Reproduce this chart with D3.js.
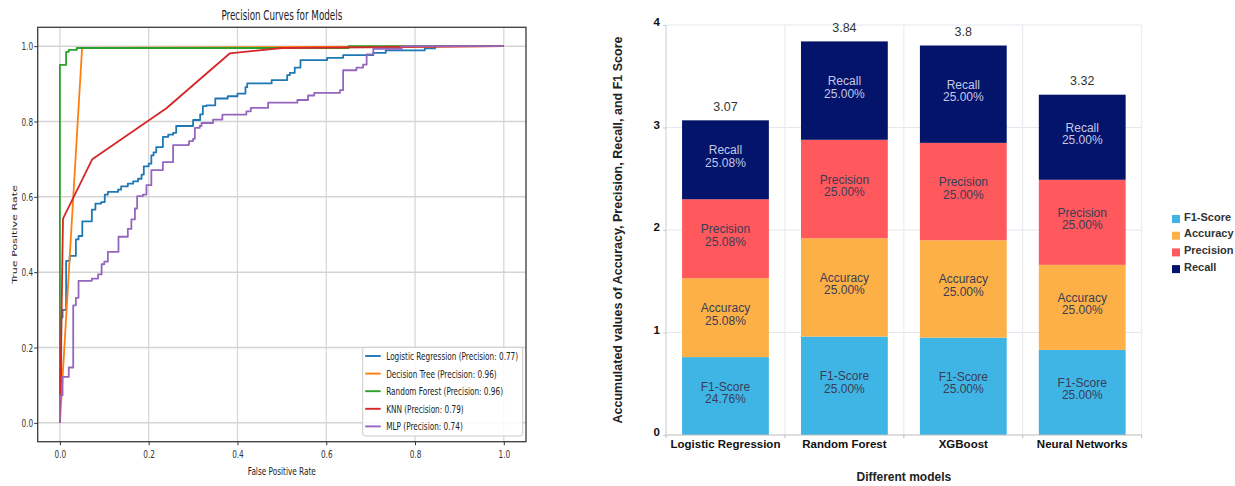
<!DOCTYPE html>
<html><head><meta charset="utf-8">
<script src="https://cdn.jsdelivr.net/npm/d3@7"></script>
<style>body{margin:0;background:#fff}svg{display:block}</style>
</head><body><svg id="c" width="1235" height="486"></svg>
<script>
// ---------------- LEFT PANEL DATA (ROC curves) ----------------
const rocTitle = "Precision Curves for Models";
const rocModels = ["Logistic Regression", "Decision Tree", "Random Forest", "KNN", "MLP"];
const rocPrecision = [0.77, 0.96, 0.96, 0.79, 0.74];
const rocTicks = [0, 0.2, 0.4, 0.6, 0.8, 1.0];

const lrFpr = [0, 0, 0.003, 0.006, 0.014, 0.022, 0.036, 0.042, 0.0505, 0.072, 0.080, 0.093, 0.101, 0.108, 0.131, 0.138, 0.153, 0.165, 0.176, 0.184, 0.189, 0.200, 0.206, 0.211, 0.217, 0.232, 0.244, 0.255, 0.262, 0.300, 0.316, 0.322, 0.330, 0.350, 0.378, 0.400, 0.418, 0.422, 0.477, 0.512, 0.518, 0.529, 0.542, 0.602, 0.638, 0.706, 0.734, 0.822, 0.845, 1.0];
const lrTpr = [0, 0.075, 0.28, 0.30, 0.43, 0.443, 0.487, 0.496, 0.535, 0.566, 0.582, 0.586, 0.606, 0.613, 0.619, 0.628, 0.635, 0.641, 0.648, 0.659, 0.681, 0.688, 0.710, 0.718, 0.732, 0.759, 0.765, 0.770, 0.788, 0.804, 0.819, 0.841, 0.843, 0.861, 0.867, 0.874, 0.891, 0.901, 0.910, 0.923, 0.929, 0.943, 0.963, 0.969, 0.976, 0.982, 0.989, 0.994, 1.0, 1.0];

const dtFpr = [0, 0.05, 1.0];
const dtTpr = [0, 0.995, 1.0];

const rfFpr = [0, 0, 0.014, 0.020, 0.038, 0.65, 1.0];
const rfTpr = [0, 0.95, 0.985, 0.99, 0.995, 1.0, 1.0];

const knnFpr = [0, 0.007, 0.073, 0.24, 0.383, 0.50, 1.0];
const knnTpr = [0, 0.542, 0.70, 0.835, 0.981, 0.995, 1.0];

const mlpFpr = [0, 0, 0.006, 0.020, 0.030, 0.036, 0.042, 0.072, 0.086, 0.094, 0.100, 0.108, 0.132, 0.153, 0.161, 0.169, 0.174, 0.187, 0.195, 0.206, 0.232, 0.255, 0.289, 0.291, 0.300, 0.304, 0.315, 0.319, 0.345, 0.366, 0.420, 0.430, 0.469, 0.535, 0.559, 0.573, 0.631, 0.638, 0.668, 0.683, 0.691, 0.706, 0.770, 1.0];
const mlpTpr = [0, 0.073, 0.122, 0.147, 0.312, 0.332, 0.377, 0.383, 0.394, 0.421, 0.428, 0.454, 0.494, 0.515, 0.540, 0.569, 0.602, 0.606, 0.631, 0.671, 0.692, 0.737, 0.739, 0.748, 0.754, 0.783, 0.788, 0.796, 0.805, 0.818, 0.827, 0.836, 0.850, 0.857, 0.869, 0.876, 0.883, 0.936, 0.943, 0.951, 0.978, 0.993, 1.0, 1.0];

// ---------------- RIGHT PANEL DATA (stacked bars) ----------------
const barModels = ["Logistic Regression", "Random Forest", "XGBoost", "Neural Networks"];
const metricNames = ["F1-Score", "Accuracy", "Precision", "Recall"];
const f1Values = [0.76, 0.96, 0.95, 0.83];
const accuracyValues = [0.77, 0.96, 0.95, 0.83];
const precisionValues = [0.77, 0.96, 0.95, 0.83];
const recallValues = [0.77, 0.96, 0.95, 0.83];
const barTicks = [0, 1, 2, 3, 4];

// ---------------- STYLES ----------------
const rocColors = ["#1f77b4", "#ff7f0e", "#2ca02c", "#d62728", "#9467bd"];
const metricColors = ["#3fb5e5", "#fcb045", "#ff585d", "#04146a"];
const metricTextColors = ["#3a3d55", "#3a3d55", "#3a3d55", "#c3c8e6"];

const svg = d3.select("#c");
const MPL = "DejaVu Sans, sans-serif";
const ARIAL = "Liberation Sans, Arial, sans-serif";
const C = 0.66; // horizontal squeeze of the left (matplotlib) panel
const FS = 11.1; // base font size of left panel

// ================= LEFT PANEL =================
const L = {x0: 37.7, x1: 526, y0: 27.3, y1: 441.7};
const lx = d3.scaleLinear().domain([-0.05, 1.05]).range([L.x0, L.x1]);
const ly = d3.scaleLinear().domain([-0.05, 1.05]).range([L.y1, L.y0]);
const left = svg.append("g");

function ltext(x, y, s, size, anchor, rot) {
  return left.append("text")
    .attr("transform", `translate(${x},${y}) scale(${C},1)` + (rot ? ` rotate(${rot})` : ""))
    .attr("text-anchor", anchor)
    .attr("font-family", MPL).attr("font-size", size).attr("fill", "#222")
    .text(s);
}

// grid
left.append("g").selectAll("line").data(rocTicks).join("line")
  .attr("x1", d => lx(d)).attr("x2", d => lx(d)).attr("y1", L.y0).attr("y2", L.y1)
  .attr("stroke", "#d4d4d4").attr("stroke-width", 1.2);
left.append("g").selectAll("line").data(rocTicks).join("line")
  .attr("y1", d => ly(d)).attr("y2", d => ly(d)).attr("x1", L.x0).attr("x2", L.x1)
  .attr("stroke", "#d4d4d4").attr("stroke-width", 1.5);

// curves
const curves = [
  {fpr: lrFpr, tpr: lrTpr, step: true},
  {fpr: dtFpr, tpr: dtTpr, step: false},
  {fpr: rfFpr, tpr: rfTpr, step: true},
  {fpr: knnFpr, tpr: knnTpr, step: false},
  {fpr: mlpFpr, tpr: mlpTpr, step: true}
];
svg.append("defs").append("clipPath").attr("id", "lclip")
  .append("rect").attr("x", L.x0).attr("y", L.y0).attr("width", L.x1 - L.x0).attr("height", L.y1 - L.y0);
const curveG = left.append("g").attr("clip-path", "url(#lclip)");
curves.forEach((c, i) => {
  const pts = c.fpr.map((f, k) => [f, c.tpr[k]]);
  const line = d3.line().x(d => lx(d[0])).y(d => ly(d[1]))
    .curve(c.step ? d3.curveStepAfter : d3.curveLinear);
  curveG.append("path").attr("d", line(pts)).attr("fill", "none")
    .attr("stroke", rocColors[i]).attr("stroke-width", 1.8).attr("stroke-linejoin", "round");
});

// axes
const xAxisL = left.append("g").attr("transform", `translate(0,${L.y1})`)
  .call(d3.axisBottom(lx).tickValues(rocTicks).tickFormat(d3.format(".1f")).tickSize(3.5).tickPadding(5));
const yAxisL = left.append("g").attr("transform", `translate(${L.x0},0)`)
  .call(d3.axisLeft(ly).tickValues(rocTicks).tickFormat(d3.format(".1f")).tickSize(3.5).tickPadding(3.5));
[xAxisL, yAxisL].forEach(a => {
  a.select(".domain").remove();
  a.selectAll(".tick line").attr("stroke", "#333");
  a.selectAll(".tick text").attr("font-family", MPL).attr("font-size", FS).attr("fill", "#333");
});
xAxisL.selectAll(".tick text").attr("transform", `scale(${C},1)`);
yAxisL.selectAll(".tick text").attr("transform", `scale(${C},1)`);

// frame
left.append("rect").attr("x", L.x0).attr("y", L.y0).attr("width", L.x1 - L.x0).attr("height", L.y1 - L.y0)
  .attr("fill", "none").attr("stroke", "#3a3a3a").attr("stroke-width", 1.3);

// titles
ltext((L.x0 + L.x1) / 2, 20, rocTitle, 13.3, "middle");
ltext((L.x0 + L.x1) / 2, 475, "False Positive Rate", FS, "middle");
ltext(16.5, (L.y0 + L.y1) / 2, "True Positive Rate", FS, "middle", -90);

// legend
const lg = {x: 362.7, y: 347.3, w: 160, h: 88.7, row: 17.6};
left.append("rect").attr("x", lg.x).attr("y", lg.y).attr("width", lg.w).attr("height", lg.h)
  .attr("rx", 2.5).attr("fill", "#fff").attr("fill-opacity", 0.85).attr("stroke", "#cccccc");
rocModels.forEach((m, i) => {
  const yy = lg.y + 8.7 + i * lg.row;
  left.append("line").attr("x1", lg.x + 2.5).attr("x2", lg.x + 18).attr("y1", yy).attr("y2", yy)
    .attr("stroke", rocColors[i]).attr("stroke-width", 1.9);
  ltext(lg.x + 23.5, yy + 3.9, `${m} (Precision: ${rocPrecision[i].toFixed(2)})`, FS, "start");
});

// ================= RIGHT PANEL =================
const R = {x0: 666, x1: 1141.7, y0: 25, y1: 435};
const rx = d3.scaleBand().domain(barModels).range([R.x0, R.x1]).padding(0);
const ry = d3.scaleLinear().domain([0, 4]).range([R.y1, R.y0]);
const barW = rx.bandwidth() * 0.73;
const right = svg.append("g");

const rows = barModels.map((m, i) => ({
  model: m,
  "F1-Score": f1Values[i], "Accuracy": accuracyValues[i],
  "Precision": precisionValues[i], "Recall": recallValues[i]
}));
const totals = rows.map(r => d3.sum(metricNames, k => r[k]));
const stacked = d3.stack().keys(metricNames)(rows);

// grid
right.append("g").selectAll("line").data(barTicks.slice(1)).join("line")
  .attr("x1", R.x0).attr("x2", R.x1).attr("y1", d => ry(d)).attr("y2", d => ry(d))
  .attr("stroke", "#e6e8f0").attr("stroke-width", 1);
const bounds = barModels.slice(1).map(m => rx(m)).concat([R.x1]);
right.append("g").selectAll("line").data(bounds).join("line")
  .attr("x1", d => d).attr("x2", d => d).attr("y1", R.y0).attr("y2", R.y1)
  .attr("stroke", "#e6e8f0").attr("stroke-width", 1);

// bars
stacked.forEach((layer, li) => {
  const g = right.append("g");
  g.selectAll("rect").data(layer).join("rect")
    .attr("x", d => rx(d.data.model) + (rx.bandwidth() - barW) / 2)
    .attr("width", barW)
    .attr("y", d => ry(d[1]))
    .attr("height", d => ry(d[0]) - ry(d[1]))
    .attr("fill", metricColors[li]);
  layer.forEach((d, j) => {
    const cx = rx(d.data.model) + rx.bandwidth() / 2;
    const mid = (ry(d[0]) + ry(d[1])) / 2;
    const pct = ((d[1] - d[0]) / totals[j] * 100).toFixed(2) + "%";
    const t = g.append("text").attr("text-anchor", "middle").attr("font-family", ARIAL)
      .attr("font-size", 12).attr("fill", metricTextColors[li]);
    t.append("tspan").attr("x", cx).attr("y", mid - 5.5).text(metricNames[li]);
    t.append("tspan").attr("x", cx).attr("y", mid + 7).text(pct);
  });
});

// totals
right.append("g").selectAll("text").data(barModels).join("text")
  .attr("x", d => rx(d) + rx.bandwidth() / 2)
  .attr("y", (d, i) => ry(totals[i]) - 9.5)
  .attr("text-anchor", "middle").attr("font-family", ARIAL).attr("font-size", 12.5).attr("fill", "#333")
  .text((d, i) => String(+totals[i].toFixed(2)));

// x axis
right.append("line").attr("x1", R.x0).attr("x2", R.x1).attr("y1", R.y1).attr("y2", R.y1)
  .attr("stroke", "#bbbbbb").attr("stroke-width", 1);
right.append("g").selectAll("line").data([R.x0].concat(bounds)).join("line")
  .attr("x1", d => d).attr("x2", d => d).attr("y1", R.y1).attr("y2", R.y1 + 3)
  .attr("stroke", "#bbbbbb");
right.append("g").selectAll("text").data(barModels).join("text")
  .attr("x", d => rx(d) + rx.bandwidth() / 2).attr("y", 447.5)
  .attr("text-anchor", "middle").attr("font-family", ARIAL).attr("font-weight", "bold")
  .attr("font-size", 11.5).attr("fill", "#111").text(d => d);

// y axis
const yAxisR = right.append("g").attr("transform", `translate(${R.x0},0)`)
  .call(d3.axisLeft(ry).tickValues(barTicks).tickFormat(d3.format("d")).tickSize(3).tickPadding(3));
yAxisR.select(".domain").attr("stroke", "#cccccc").attr("d", `M0,${R.y1}V${R.y0}`);
yAxisR.selectAll(".tick line").attr("stroke", "#cccccc");
yAxisR.selectAll(".tick text").attr("font-family", ARIAL).attr("font-weight", "bold")
  .attr("font-size", 11.5).attr("fill", "#111").attr("dy", "0.05em");

// axis titles
right.append("text").attr("x", (R.x0 + R.x1) / 2).attr("y", 480.5).attr("text-anchor", "middle")
  .attr("font-family", ARIAL).attr("font-weight", "bold").attr("font-size", 12).attr("fill", "#222")
  .text("Different models");
right.append("text").attr("transform", `translate(622,${(R.y0 + R.y1) / 2}) rotate(-90)`)
  .attr("text-anchor", "middle").attr("font-family", ARIAL).attr("font-weight", "bold")
  .attr("font-size", 12.5).attr("fill", "#222")
  .text("Accumulated values of Accuracy, Precision, Recall, and F1 Score");

// legend
metricNames.forEach((m, i) => {
  const yy = 215 + i * 16.7;
  right.append("rect").attr("x", 1172).attr("y", yy).attr("width", 8).attr("height", 8)
    .attr("fill", metricColors[i]);
  right.append("text").attr("x", 1184).attr("y", yy + 5.7).attr("font-family", ARIAL)
    .attr("font-weight", "bold").attr("font-size", 11).attr("fill", "#333").text(m);
});
</script></body></html>
